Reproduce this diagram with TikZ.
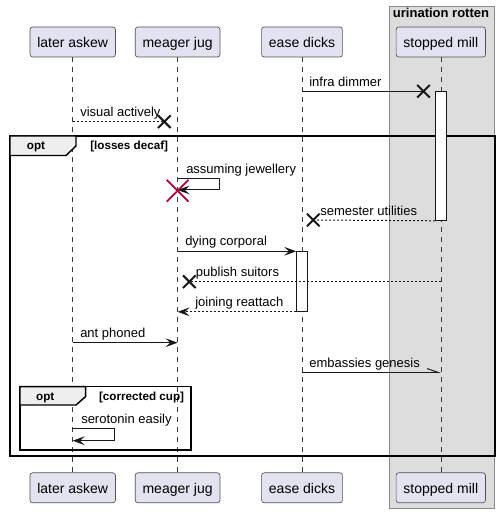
\documentclass[tikz,border=0pt]{standalone}
\usepackage{fontspec}
\setmainfont{Liberation Sans}
\usetikzlibrary{arrows.meta, shapes.misc}
\definecolor{partfill}{HTML}{E2E2F0}
\definecolor{partline}{HTML}{181818}
\definecolor{boxfill}{HTML}{DDDDDD}
\definecolor{boxline}{HTML}{8A8A8A}
\definecolor{tabfill}{HTML}{EEEEEE}
\definecolor{killred}{HTML}{A80036}
\tikzset{
  font=\fontsize{9.75}{11}\selectfont,
  % Set arrowhead
  >={Stealth[length=9pt, width=6.5pt, inset=3.5pt]},
  % Participant box
  part/.style={draw=partline!75, fill=partfill, line width=0.5pt,
    rounded corners=2pt, minimum height=22.5pt, inner xsep=5.5pt,
    inner ysep=0pt, text height=8.5pt, text depth=0pt,
    font=\fontsize{10.5}{12}\selectfont},
  % Lifeline
  life/.style={partline!85, line width=0.45pt, dash pattern=on 3.75pt off 3.75pt},
  % Box round a participant
  pbox/.style={draw=boxline, fill=boxfill, line width=0.6pt},
  boxtitle/.style={font=\bfseries\fontsize{9.75}{11}\selectfont, inner sep=0pt,
    anchor=base},
  % Activation bar
  actbar/.style={draw=partline, fill=white, line width=0.6pt,
    minimum width=8pt, inner sep=0pt, anchor=north},
  % Messages
  msg/.style={partline, line width=0.75pt},
  rmsg/.style={msg, dash pattern=on 1.5pt off 1.5pt},
  half/.style={-{Straight Barb[harpoon, length=8pt, width=5.5pt]}},
  lbl/.style={anchor=base west, inner sep=0pt},
  % Lost message cross
  lostx/.style={cross out, draw=partline, line width=1.5pt, minimum size=8pt,
    inner sep=0pt},
  % Destroy cross
  killx/.style={cross out, draw=killred, line width=1.3pt, minimum size=15pt,
    inner sep=0pt},
  % Opt frame
  optframe/.style={draw=black, line width=1.1pt},
  opttab/.style={optframe, fill=tabfill},
  tabtxt/.style={font=\bfseries\fontsize{8.75}{10}\selectfont, inner sep=0pt,
    anchor=base},
  guard/.style={font=\bfseries\fontsize{8.75}{10}\selectfont, inner sep=0pt},
}

\begin{document}
\begin{tikzpicture}[x=0.75pt, y=-0.75pt]
  \useasboundingbox (0,0) rectangle (500,513);

  % box round stopped mill
  \draw[pbox] (389.5,6) rectangle (494,508);
  \node[boxtitle] (bt) at (441,18) {urination rotten};

  % participants, top and bottom
  \node[part] (la) at (72.7,42) {later askew};
  \node[part] (mj) at (177.6,42) {meager jug};
  \node[part] (ed) at (302,42) {ease dicks};
  \node[part] (sm) at (440.8,42) {stopped mill};
  \node[part] (la2) at (72.7,487.8) {later askew};
  \node[part] (mj2) at (177.6,487.8) {meager jug};
  \node[part] (ed2) at (302,487.8) {ease dicks};
  \node[part] (sm2) at (440.8,487.8) {stopped mill};

  \draw[life] (la) -- (la2);
  \draw[life] (mj) -- (mj2);
  \draw[life] (ed) -- (ed2);
  \draw[life] (sm) -- (sm2);

  % opt frames
  \draw[optframe] (10,136) rectangle (495,456);
  \draw[opttab] (10,136) -- (76,136) -- (76,146) -- (66,155.5) -- (10,155.5) -- cycle;
  \node[tabtxt] (o1) at (36,150) {opt};
  \node[guard, anchor=base west] (g1) at (90,149.5) {[losses decaf]};

  \draw[optframe] (20,386.7) rectangle (191,450);
  \draw[opttab] (20,386.7) -- (85.7,386.7) -- (85.7,396.5) -- (76,405) -- (20,405) -- cycle;
  \node[tabtxt] (o2) at (45.3,400.7) {opt};
  \node[guard, anchor=base east] (g2) at (184.3,400.3) {[corrected cup]};

  % activation bars
  \node[actbar, minimum height=96.75pt] (a1) at (sm |- 0,91) {};
  \node[actbar, minimum height=44.8pt] (a2) at (ed |- 0,251.3) {};

  % messages
  \node[lostx] (x1) at (423.5,91.3) {};
  \draw[msg] (ed |- x1) -- (x1.center);
  \node[lbl] (t1) at (309,87) {infra dimmer};

  \node[lostx] (x2) at (164.3,121.7) {};
  \draw[rmsg] (la |- x2) -- (x2.center);
  \node[lbl] (t2) at (80,116.7) {visual actively};

  \draw[msg, ->] (mj |- 0,178.3) -- ++(42,0) -- ++(0,11.7) -- ++(-42,0);
  \node[killx] (k1) at (mj |- 0,190.7) {};
  \node[lbl] (t3) at (186,173.3) {assuming jewellery};

  \node[lostx] (x4) at (313.3,220) {};
  \draw[rmsg] (a1.south west) -- (x4.center);
  \node[lbl] (t4) at (320,215) {semester utilities};

  \draw[msg, ->] (mj |- a2.north) -- (a2.north west);
  \node[lbl] (t5) at (185,245.7) {dying corporal};

  \node[lostx] (x6) at (189.3,281.7) {};
  \draw[rmsg] (sm |- x6) -- (x6.center);
  \node[lbl] (t6) at (195.7,276.7) {publish suitors};

  \draw[rmsg, ->] (a2.south west) -- (mj |- a2.south);
  \node[lbl] (t7) at (195,306.7) {joining reattach};

  \draw[msg, ->] (la |- 0,342.7) -- (mj |- 0,342.7);
  \node[lbl] (t8) at (80,337.7) {ant phoned};

  \draw[msg, half] (ed |- 0,372.3) -- (sm |- 0,372.3);
  \node[lbl] (t9) at (309,367.7) {embassies genesis};

  \draw[msg, ->] (la |- 0,428.3) -- ++(41.6,0) -- ++(0,12.4) -- ++(-41.6,0);
  \node[lbl] (t10) at (81,423.3) {serotonin easily};
\end{tikzpicture}
\end{document}
